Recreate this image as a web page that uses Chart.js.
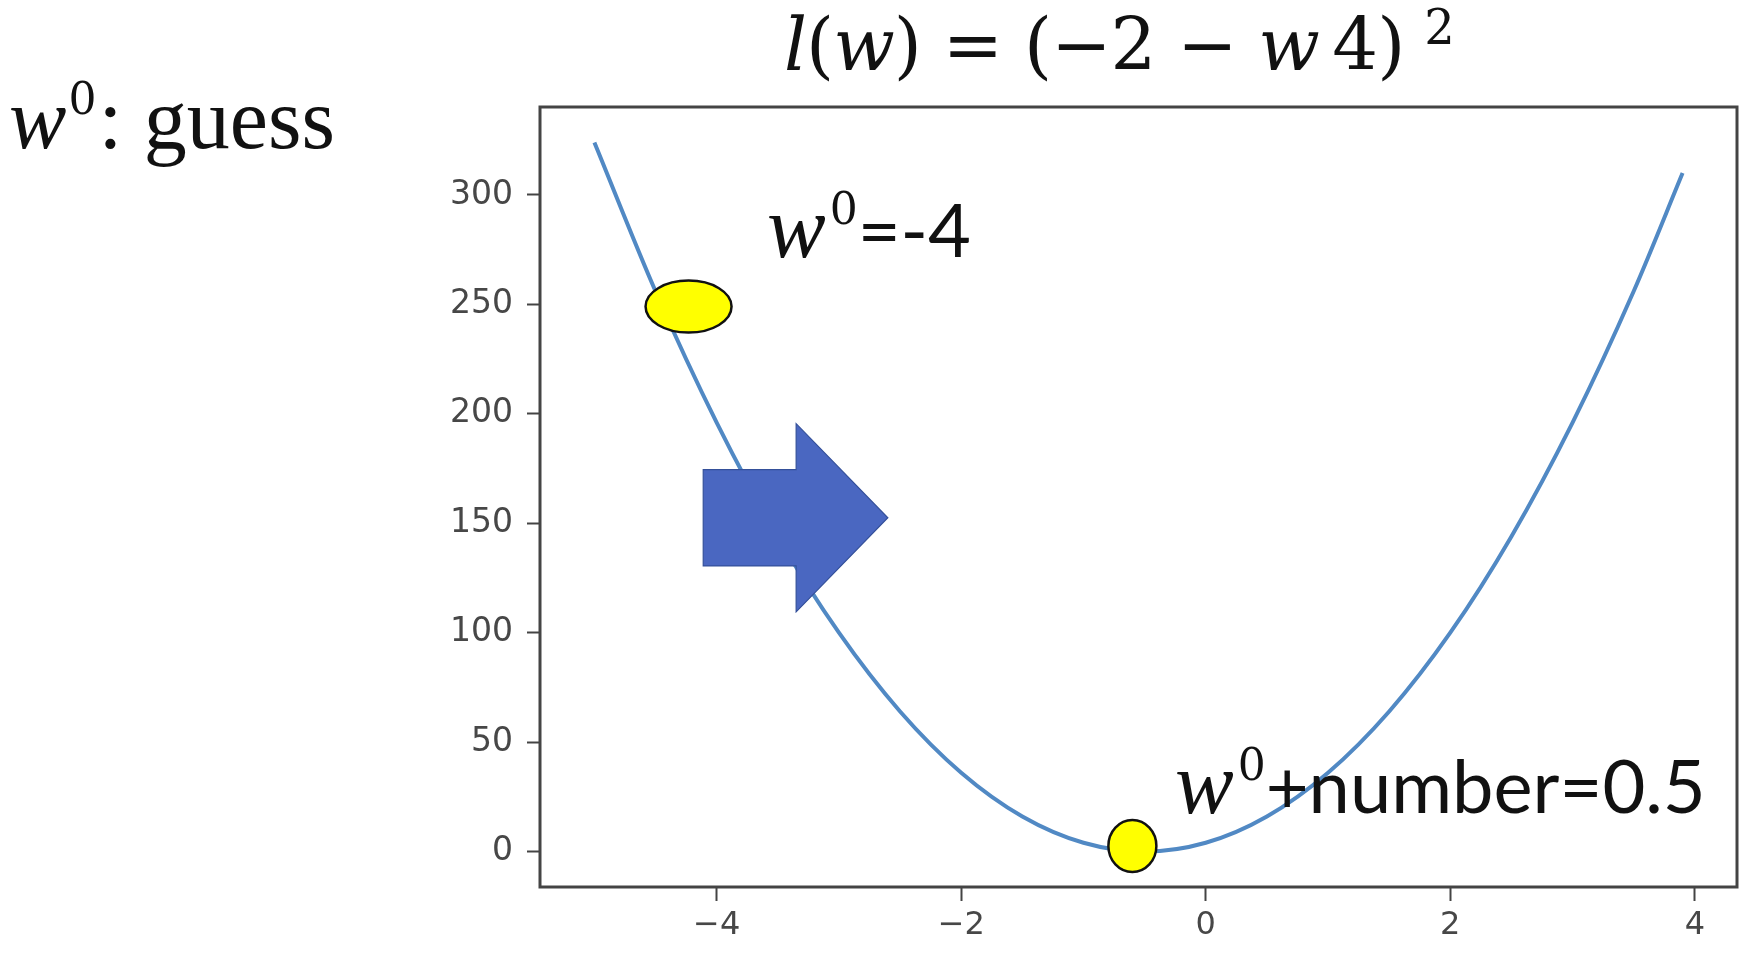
<!DOCTYPE html>
<html>
<head>
<meta charset="utf-8">
<script src="https://cdn.jsdelivr.net/npm/chart.js@4/dist/chart.umd.min.js"></script>
<style>
  html, body { margin: 0; padding: 0; background: #fff; }
  #wrap { position: relative; width: 1749px; height: 958px; overflow: hidden; }
  #c { position: absolute; left: 0; top: 0; }
  .txt { position: absolute; white-space: nowrap; line-height: 1; color: #111; }
  .serif { font-family: "Liberation Serif", serif; }
  .math { font-family: "DejaVu Serif", serif; }
  .sans { font-family: Lato, sans-serif; }
  .sup { position: relative; font-family: "DejaVu Serif", serif; }
</style>
</head>
<body>
<div id="wrap">
  <canvas id="c" width="1749" height="958"></canvas>

  <!-- slide title -->
  <div class="txt math" id="title" style="left:784px; top:9px; font-size:72px; letter-spacing:-1px;">
    <i>l</i>(<i>w</i>) = (&minus;2 &minus; <i>w</i>&thinsp;4)<span class="sup" style="font-size:48px; top:-26px; margin-left:20px;">2</span>
  </div>

  <!-- left caption -->
  <div class="txt serif" id="guess" style="left:9px; top:76px; font-size:86px;">
    <i>w</i><span class="sup" style="font-size:44px; top:-34px; margin-left:2px;">0</span><span style="margin-left:2px;">:</span>&nbsp;guess
  </div>

  <!-- annotation for the start point -->
  <div class="txt" style="left:767px; top:184px;">
    <i class="serif" style="font-size:88px;">w</i><span class="sup" style="font-size:44px; top:-33px; margin-left:4px;">0</span><span class="sans" style="font-size:74px;">=-4</span>
  </div>

  <!-- annotation for the next point -->
  <div class="txt" style="left:1175px; top:740px;">
    <i class="serif" style="font-size:88px;">w</i><span class="sup" style="font-size:44px; top:-33px; margin-left:4px;">0</span><span class="sans" style="font-size:74px;">+number=0.5</span>
  </div>
</div>

<script>
// ----------------------
// DATA
// ----------------------

// loss curve l(w)
const lossW = [-5, -4.5, -4, -3.5, -3, -2.5, -2, -1.5, -1, -0.5, 0, 0.5, 1, 1.5, 2, 2.5, 3, 3.5, 3.9];
const lossL = [324, 256, 196, 144, 100, 64, 36, 16, 4, 0, 4, 16, 36, 64, 100, 144, 196, 256, 310];

// axes
const xTicks = [-4, -2, 0, 2, 4];
const yTicks = [0, 50, 100, 150, 200, 250, 300];
const xRange = [-5.445, 4.345];
const yRange = [-16.2, 340.2];

// yellow markers: first guess and the updated point
const markW = [-4.23, -0.6];
const markL = [249, 2.5];

// blue arrow outline (tail -> head -> tip)
const arrowW = [-4.11, -3.35, -3.35, -2.6, -3.35, -3.35, -4.11];
const arrowL = [174.5, 174.5, 195.5, 152.5, 109.5, 130.5, 130.5];

// ----------------------
// PLUGINS
// ----------------------

const frame = {
  id: 'frame',
  afterDatasetsDraw(chart) {
    const { ctx, chartArea: a, scales: { x, y } } = chart;
    ctx.save();

    // arrow
    ctx.beginPath();
    arrowW.forEach((w, i) => {
      const px = x.getPixelForValue(w), py = y.getPixelForValue(arrowL[i]);
      if (i === 0) ctx.moveTo(px, py); else ctx.lineTo(px, py);
    });
    ctx.closePath();
    ctx.fillStyle = '#4a67c1';
    ctx.fill();
    ctx.lineWidth = 1.2;
    ctx.strokeStyle = '#34509a';
    ctx.stroke();

    // yellow ellipses
    const radii = [[43, 26], [24, 26]];
    markW.forEach((w, i) => {
      ctx.beginPath();
      ctx.ellipse(x.getPixelForValue(w), y.getPixelForValue(markL[i]), radii[i][0], radii[i][1], 0, 0, Math.PI * 2);
      ctx.fillStyle = '#ffff00';
      ctx.fill();
      ctx.lineWidth = 2.5;
      ctx.strokeStyle = '#111';
      ctx.stroke();
    });

    // axes box
    ctx.lineWidth = 3;
    ctx.strokeStyle = '#444';
    ctx.strokeRect(a.left, a.top, a.right - a.left, a.bottom - a.top);
    ctx.restore();
  }
};

// ----------------------
// CHART
// ----------------------

const fmt = v => (v < 0 ? '\u2212' + Math.abs(v) : '' + v);

new Chart(document.getElementById('c'), {
  type: 'line',
  data: {
    datasets: [{
      data: lossW.map((w, i) => ({ x: w, y: lossL[i] })),
      borderColor: '#5189c4',
      borderWidth: 4,
      pointRadius: 0,
      cubicInterpolationMode: 'monotone',
      fill: false
    }]
  },
  options: {
    responsive: false,
    animation: false,
    layout: { padding: { left: 0, top: 107, right: 12, bottom: 0 } },
    plugins: { legend: { display: false }, tooltip: { enabled: false } },
    scales: {
      x: {
        type: 'linear',
        min: xRange[0],
        max: xRange[1],
        afterBuildTicks: s => { s.ticks = xTicks.map(v => ({ value: v })); },
        afterFit: s => { s.height = 71; },
        border: { display: false },
        grid: { drawOnChartArea: false, drawTicks: true, tickLength: 14, tickColor: '#444', tickWidth: 2 },
        ticks: { font: { family: 'DejaVu Sans', size: 32 }, color: '#474747', padding: 5, maxRotation: 0, callback: fmt }
      },
      y: {
        type: 'linear',
        min: yRange[0],
        max: yRange[1],
        afterBuildTicks: s => { s.ticks = yTicks.map(v => ({ value: v })); },
        afterFit: s => { s.width = 540; },
        border: { display: false },
        grid: { drawOnChartArea: false, drawTicks: true, tickLength: 13, tickColor: '#444', tickWidth: 2 },
        ticks: { font: { family: 'DejaVu Sans', size: 33 }, color: '#474747', padding: 14, callback: fmt }
      }
    }
  },
  plugins: [frame]
});
</script>
</body>
</html>
